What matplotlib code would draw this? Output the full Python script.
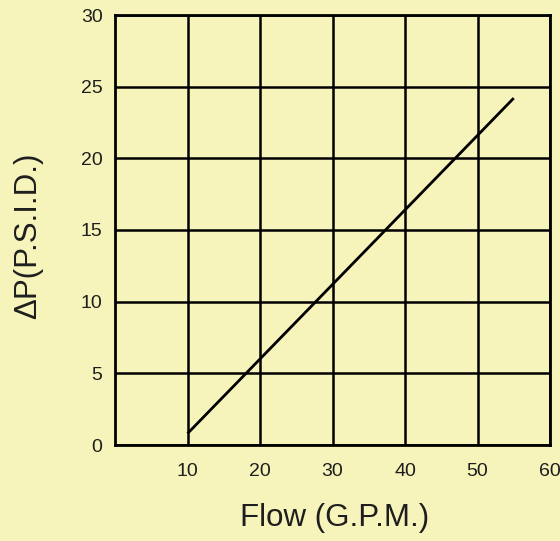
import matplotlib
matplotlib.use("Agg")
import matplotlib.pyplot as plt

# data
flow = [10, 55]
dp = [0.8, 24.2]
x_ticks = [10, 20, 30, 40, 50, 60]
y_ticks = [0, 5, 10, 15, 20, 25, 30]

bg = "#f6f4bb"
plt.rcParams['font.family'] = ['Liberation Sans', 'DejaVu Sans']

fig = plt.figure(figsize=(5.6, 5.41), dpi=100, facecolor=bg)
ax = fig.add_axes([115 / 560, 96 / 541, 435 / 560, 430 / 541], facecolor=bg)

ax.plot(flow, dp, color="black", lw=2, solid_capstyle="butt")

ax.set_xlim(0, 60)
ax.set_ylim(0, 30)
ax.set_xticks(x_ticks)
ax.set_yticks(y_ticks)
ax.grid(True, color="black", lw=1.8)
ax.set_axisbelow(True)
ax.tick_params(length=0, labelsize=14, colors="#1e1e1e")
ax.tick_params(axis="y", pad=9)
ax.tick_params(axis="x", pad=13)
for s in ax.spines.values():
    s.set_linewidth(2)
    s.set_color("black")

ax.set_xlabel("Flow (G.P.M.)", fontsize=22.5, color="#1e1e1e")
ax.set_ylabel("ΔP(P.S.I.D.)", fontsize=22.5, color="#1e1e1e")
ax.xaxis.set_label_coords(0.506, -0.135)
ax.yaxis.set_label_coords(-0.166, 0.486)

fig.savefig("out.png", dpi=100, facecolor=bg)
